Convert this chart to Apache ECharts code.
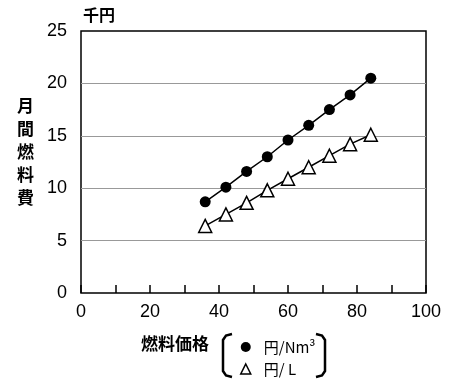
<!DOCTYPE html>
<html><head><meta charset="utf-8">
<script src="https://cdn.jsdelivr.net/npm/echarts@6/dist/echarts.min.js"></script>
<style>html,body{margin:0;padding:0;background:#fff}#c{width:450px;height:388px}</style>
</head><body><div id="c"></div>
<script>
const prices = [36, 42, 48, 54, 60, 66, 72, 78, 84];
const costGas = [8.7, 10.1, 11.6, 13.0, 14.6, 16.0, 17.5, 18.9, 20.5];
const costOil = [6.4, 7.5, 8.6, 9.8, 10.9, 12.0, 13.1, 14.2, 15.1];
const seriesNames = ['円/Nm³', '円/ L'];
const xTicks = [0, 20, 40, 60, 80, 100];

const jp = '"Noto Sans CJK JP", sans-serif';
const num = '"Liberation Sans", Arial, sans-serif';
const chart = echarts.init(document.getElementById('c'));
chart.setOption({
  animation: false,
  grid: { left: 81, right: 24, top: 31, bottom: 95, show: true, borderColor: '#000', borderWidth: 1.5 },
  xAxis: {
    type: 'value', min: 0, max: 100, interval: 10,
    axisLine: { show: false },
    axisTick: { show: true, inside: true, length: 8, lineStyle: { color: '#000', width: 1.5 } },
    splitLine: { show: false },
    axisLabel: { margin: 10, color: '#000', fontFamily: num, fontSize: 18,
      formatter: v => xTicks.includes(v) ? String(v) : '' }
  },
  yAxis: {
    type: 'value', min: 0, max: 25, interval: 5,
    axisLine: { show: false }, axisTick: { show: false },
    axisLabel: { margin: 14, color: '#000', fontFamily: num, fontSize: 18 },
    splitLine: { show: true, lineStyle: { color: ['transparent', '#999', '#999', '#999', '#999', 'transparent'], width: 1 } }
  },
  legend: {
    orient: 'vertical', left: 235, top: 333, itemGap: 4, itemWidth: 10, itemHeight: 10,
    textStyle: { fontFamily: jp, fontSize: 15, color: '#000', lineHeight: 18, padding: [0, 0, 0, 8] },
    data: [
      { name: seriesNames[0], icon: 'circle', itemStyle: { color: '#000', borderWidth: 0 } },
      { name: seriesNames[1], icon: 'triangle', itemStyle: { color: '#fff', borderColor: '#000', borderWidth: 1.5 } }
    ]
  },
  series: [
    { name: seriesNames[0], type: 'line', data: prices.map((p, i) => [p, costGas[i]]),
      symbol: 'circle', symbolSize: 11, lineStyle: { color: '#000', width: 1.5 },
      itemStyle: { color: '#000', borderWidth: 0 } },
    { name: seriesNames[1], type: 'line', data: prices.map((p, i) => [p, costOil[i]]),
      symbol: 'triangle', symbolSize: 13, lineStyle: { color: '#000', width: 1.5 },
      itemStyle: { color: '#fff', borderColor: '#000', borderWidth: 1.5 } }
  ],
  graphic: [
    { type: 'text', left: 83, top: 7, style: { text: '千円', font: 'bold 16px ' + jp, fill: '#000' } },
    { type: 'text', left: 17, top: 94, style: { text: '月\n間\n燃\n料\n費', font: 'bold 17px ' + jp, lineHeight: 23, fill: '#000' } },
    { type: 'text', left: 141, top: 335, style: { text: '燃料価格', font: 'bold 17px ' + jp, fill: '#000' } },
    { type: 'polyline', shape: { points: [[232, 334], [226, 335.5], [223, 340], [223, 371], [226, 375.5], [232, 377]] },
      style: { stroke: '#000', lineWidth: 2.5, fill: null } },
    { type: 'polyline', shape: { points: [[316, 334], [322, 335.5], [325, 340], [325, 371], [322, 375.5], [316, 377]] },
      style: { stroke: '#000', lineWidth: 2.5, fill: null } }
  ]
});
</script></body></html>
